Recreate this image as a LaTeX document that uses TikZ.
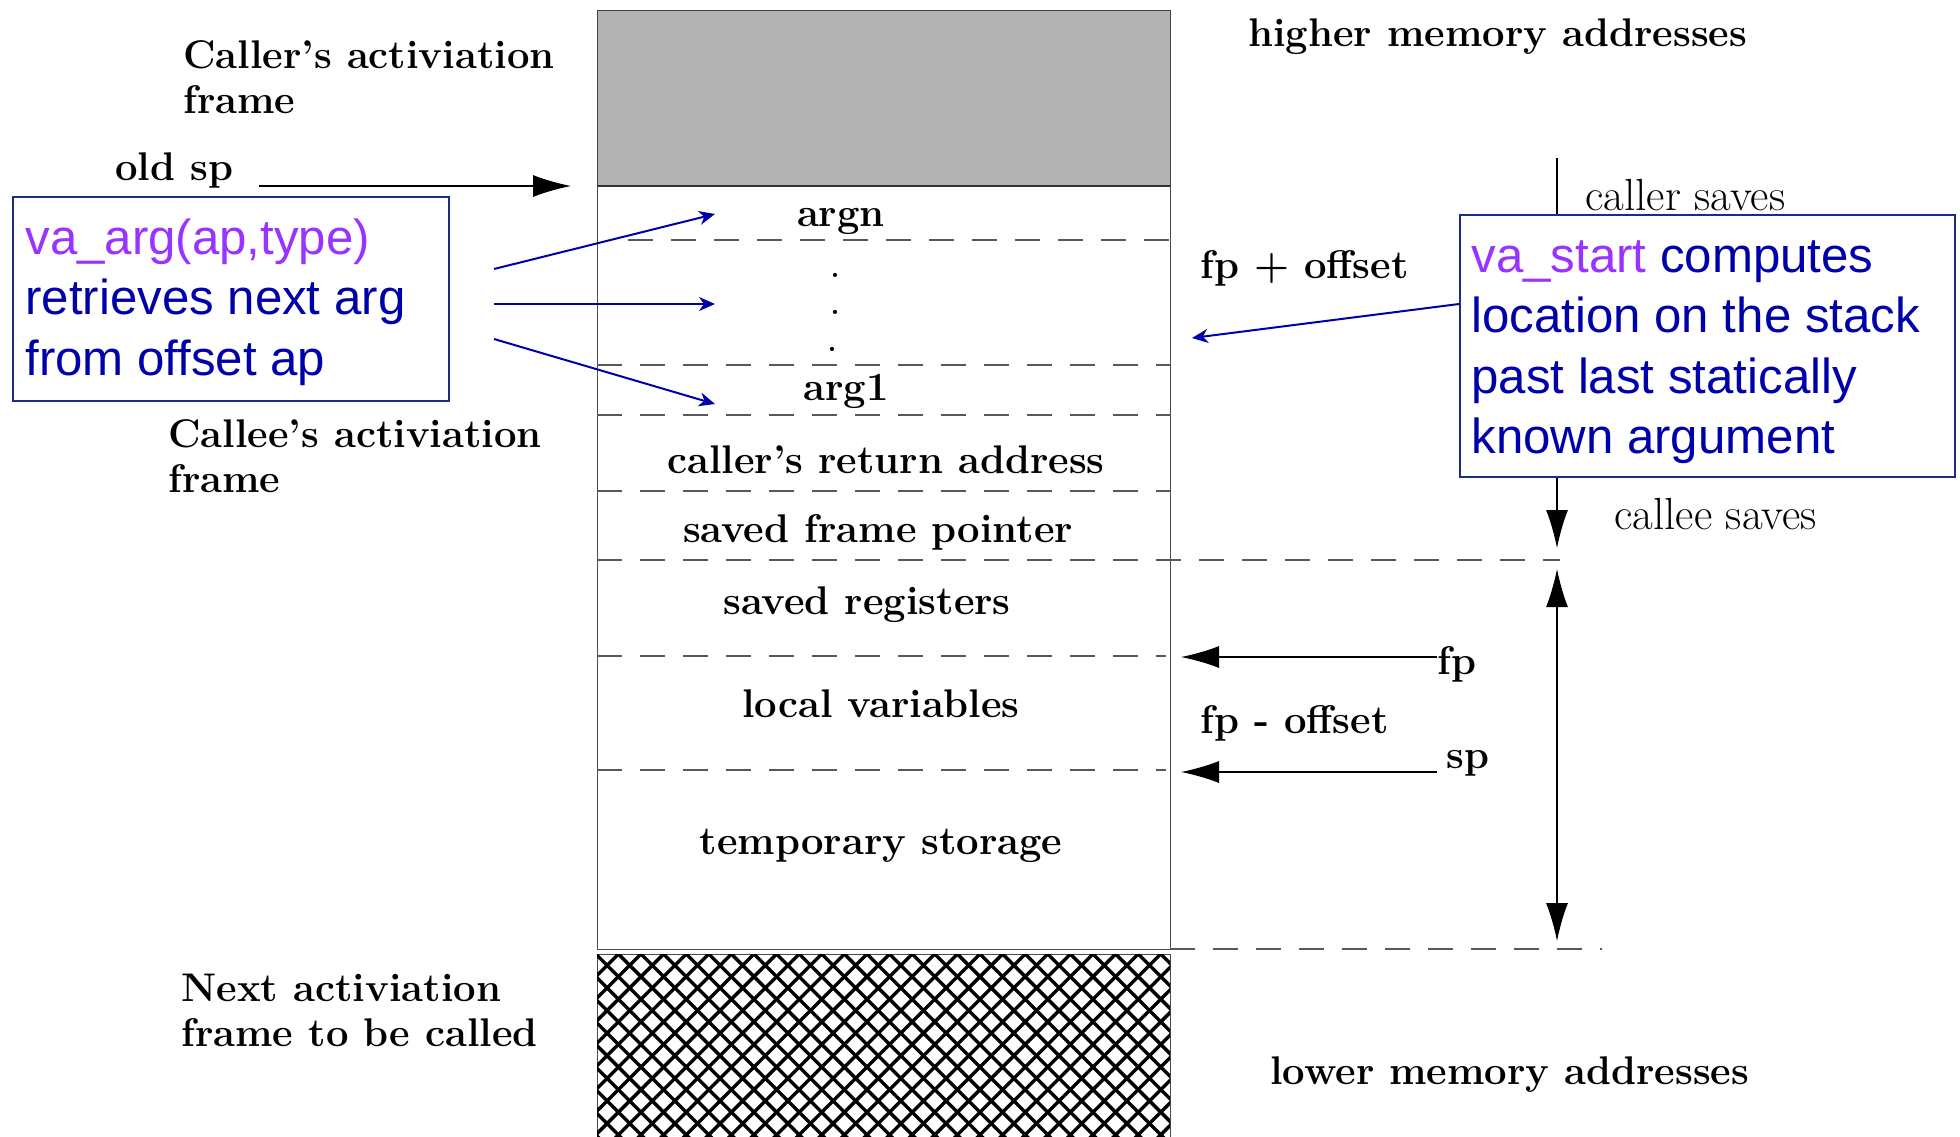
\documentclass[tikz,border=0pt]{standalone}
\usepackage{fontspec}
\newfontfamily\blu{Liberation Sans}
\usetikzlibrary{arrows.meta}
\definecolor{vapurple}{RGB}{153,51,255}
\definecolor{vablue}{RGB}{0,0,170}
\definecolor{boxblue}{RGB}{25,45,130}
\definecolor{frgray}{RGB}{179,179,179}
\begin{document}
\begin{tikzpicture}[x=0.5pt,y=-0.5pt,
  lbl/.style={inner sep=0pt,font=\fontsize{20}{22.5}\selectfont\bfseries},
  sml/.style={inner sep=0pt,font=\fontsize{22.5}{26}\selectfont},
  dline/.style={draw=black!65,line width=0.6pt,dash pattern=on 12.5pt off 9pt},
  bigarrow/.style={line width=0.6pt,-{Latex[length=19pt,width=11pt]}},
  bluearrow/.style={vablue,line width=1pt,-{Stealth[length=8pt,width=7pt,inset=2.5pt]}},
  infobox/.style={draw=boxblue,line width=0.8pt,fill=white,inner sep=0pt},
  infotext/.style={inner sep=0pt,align=left,font=\fontsize{24.6}{30.2}\selectfont\blu,text=vablue}]
\useasboundingbox (0,0) rectangle (1960,1136);
\fill[white] (0,0) rectangle (1960,1136);
% caller frame
\node[draw=black!75,fill=frgray,line width=0.6pt,minimum width=286.5pt,minimum height=87.5pt,anchor=north west,inner sep=0pt] (caller) at (597,10) {};
% callee column
\node[draw=black!70,line width=0.5pt,minimum width=286.5pt,minimum height=382pt,anchor=north west,inner sep=0pt] (callee) at (597,185) {};
\draw[line width=1.2pt,black!80] (caller.south west) -- (caller.south east);
% next frame hatch
\node[draw=black!70,line width=0.5pt,minimum width=286.5pt,minimum height=92pt,anchor=north west,inner sep=0pt] (next) at (597,954) {};
\begin{scope}
\clip (597,954) rectangle (1170,1136);
\foreach \k in {0,...,45} {
  \draw[line width=1.7pt,black] ({415+22.6*\k},954) -- ({415+22.6*\k+190},1144);
  \draw[line width=1.7pt,black] ({415+22.6*\k},954) -- ({415+22.6*\k-190},1144);
}
\end{scope}
% dashed separators
\coordinate (d1a) at (628,240); \coordinate (d1b) at (1170,240);
\coordinate (d2a) at (597,365); \coordinate (d2b) at (1170,365);
\coordinate (d3a) at (597,415); \coordinate (d3b) at (1170,415);
\coordinate (d4a) at (597,491); \coordinate (d4b) at (1170,491);
\coordinate (d5a) at (597,560); \coordinate (d5b) at (1560,560);
\coordinate (d6a) at (597,656); \coordinate (d6b) at (1166,656);
\coordinate (d7a) at (597,770); \coordinate (d7b) at (1166,770);
\coordinate (d8a) at (1170,949); \coordinate (d8b) at (1602,949);
\foreach \i in {1,...,8} \draw[dline] (d\i a) -- (d\i b);
% stack labels
\node[lbl] (argn) at (841,221) {argn};
\node[lbl] (arg1) at (846,391) {arg1};
\node[inner sep=0pt,font=\Large\bfseries] (dot1) at (835,275) {.};
\node[inner sep=0pt,font=\Large\bfseries] (dot2) at (835,312) {.};
\node[inner sep=0pt,font=\Large\bfseries] (dot3) at (832,349) {.};
\node[lbl] (ret) at (886,460) {caller’s return address};
\node[lbl] (sfp) at (878,532) {saved frame pointer};
\node[lbl] (sreg) at (867,605) {saved registers};
\node[lbl] (lvar) at (881,704) {local variables};
\node[lbl] (tmp) at (881,846) {temporary storage};
% left labels
\node[lbl,anchor=west,align=left] (callerlbl) at (183,77) {Caller’s activiation\\frame};
\node[lbl,anchor=west,align=left] (calleelbl) at (168,456) {Callee’s activiation\\frame};
\node[lbl,anchor=west,align=left] (nextlbl) at (181,1010) {Next activiation\\frame to be called};
\node[lbl,anchor=west] (oldsp) at (115,170) {old sp};
\coordinate (oldspA) at (259,186);
\coordinate (oldspB) at (571,186);
\draw[bigarrow] (oldspA) -- (oldspB);
% right labels
\node[lbl,anchor=west] (higher) at (1248,37) {higher memory addresses};
\node[lbl,anchor=west] (lower) at (1270,1075) {lower memory addresses};
\node[lbl,anchor=west] (fpplus) at (1200,268) {fp + offset};
\node[lbl,anchor=west] (fpminus) at (1200,723) {fp - offset};
\node[lbl,anchor=west] (fp) at (1437,664) {fp};
\node[lbl,anchor=west] (sp) at (1446,763) {sp};
\coordinate (fpstart) at (1437,657);
\coordinate (fptip) at (1181,657);
\coordinate (spstart) at (1437,772);
\coordinate (sptip) at (1181,772);
\draw[bigarrow] (fpstart) -- (fptip);
\draw[bigarrow] (spstart) -- (sptip);
% caller/callee saves
\coordinate (savetop) at (1557,158);
\coordinate (savetip) at (1557,548);
\draw[bigarrow] (savetop) -- (savetip);
\node[sml,anchor=west] (callersaves) at (1585,195) {caller saves};
\node[sml,anchor=west] (calleesaves) at (1614,514) {callee saves};
\coordinate (rangetop) at (1557,569);
\coordinate (rangebot) at (1557,941);
\draw[line width=0.6pt,{Latex[length=19pt,width=11pt]}-{Latex[length=19pt,width=11pt]}] (rangetop) -- (rangebot);
% info boxes
\node[infobox,anchor=north west,minimum width=218pt,minimum height=102pt] (vaarg) at (12,196) {};
\node[infotext,anchor=west] (vaargT) at (25,302)
  {\textcolor{vapurple}{va\_arg(ap,type)}\\retrieves next arg\\from offset ap};
\node[infobox,anchor=north west,minimum width=247.5pt,minimum height=131pt] (vastart) at (1459,214) {};
\node[infotext,anchor=west] (vastartT) at (1471,352)
  {\textcolor{vapurple}{va\_start} computes\\location on the stack\\past last statically\\known argument};
\coordinate (ba1) at (715,214);
\coordinate (ba2) at (715,304);
\coordinate (ba3) at (715,404);
\draw[bluearrow] (494,269) -- (ba1);
\draw[bluearrow] (494,304) -- (ba2);
\draw[bluearrow] (494,339) -- (ba3);
\coordinate (vstip) at (1192,338);
\draw[bluearrow] ([yshift=-45pt]vastart.north west) -- (vstip);
\end{tikzpicture}
\end{document}
